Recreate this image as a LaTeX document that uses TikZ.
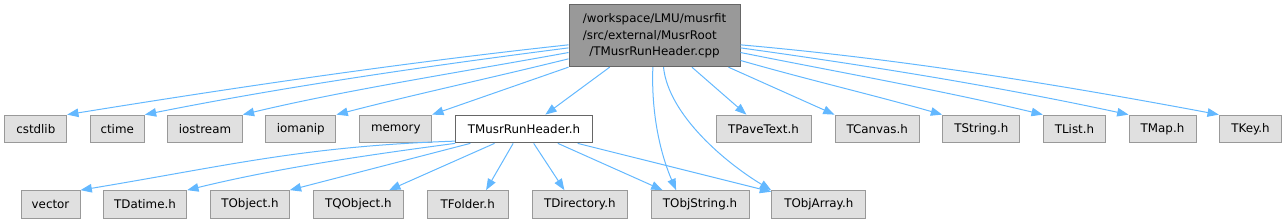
\documentclass[tikz,border=0pt]{standalone}
\usepackage{fontspec}
\setmainfont{DejaVu Sans}
\usetikzlibrary{arrows.meta}
\definecolor{edgeblue}{HTML}{63B8FF}
\definecolor{boxfill}{HTML}{E0E0E0}
\definecolor{boxline}{HTML}{999999}
\definecolor{rootfill}{HTML}{999999}
\definecolor{rootline}{HTML}{666666}
\tikzset{
  incfile/.style={
    draw=boxline,
    fill=boxfill,
    line width=0.75pt,
    inner sep=0pt,
    minimum height=20.8pt,
    minimum width=#1*0.75pt,
    font=\fontsize{8.9pt}{12.4pt}\selectfont
  },
  localfile/.style={
    incfile=#1,
    draw=rootline,
    fill=white
  },
  rootfile/.style={
    draw=rootline,
    fill=rootfill,
    line width=0.75pt,
    inner sep=0pt,
    minimum height=46.3pt,
    minimum width=#1*0.75pt,
    font=\fontsize{8.9pt}{12.4pt}\selectfont
  },
  dep/.style={
    -{Triangle[length=8.5pt,width=6.4pt]},
    line width=0.75pt,
    color=edgeblue
  }
}

\begin{document}
\begin{tikzpicture}[x=0.75pt, y=-0.75pt]
    % 1 unit = 1 px of the graph, y runs downwards
    \useasboundingbox (0,0) rectangle (1287,224);

    % the source file
    \node[rootfile=171] (root) at (654.5,35.8) {\begin{tabular}{@{}l@{}}/workspace/LMU/musrfit\\/src/external/MusrRoot\\\multicolumn{1}{@{}c@{}}{/TMusrRunHeader.cpp}\end{tabular}};

    % first row of includes
    \node[incfile=61.7] (cstdlib) at (35.8,129) {cstdlib};
    \node[incfile=54.3] (ctime) at (117.2,129) {ctime};
    \node[incfile=74.6] (iostream) at (205,129) {iostream};
    \node[incfile=70.3] (iomanip) at (300.8,129) {iomanip};
    \node[incfile=71.7] (memory) at (395.8,129) {memory};
    \node[localfile=136.6] (hdr) at (524,129) {TMusrRunHeader.h};
    \node[incfile=95] (pavetext) at (763.5,129) {TPaveText.h};
    \node[incfile=84.3] (canvas) at (877.2,129) {TCanvas.h};
    \node[incfile=77.3] (tstring) at (981.3,129) {TString.h};
    \node[incfile=62.4] (tlist) at (1074.5,129) {TList.h};
    \node[incfile=67] (tmap) at (1162.5,129) {TMap.h};
    \node[incfile=62.4] (tkey) at (1250.5,129) {TKey.h};

    % second row, included by the header
    \node[incfile=59] (vector) at (50.5,204.5) {vector};
    \node[incfile=83.4] (datime) at (145,204.5) {TDatime.h};
    \node[incfile=78.6] (tobject) at (250,204.5) {TObject.h};
    \node[incfile=90] (tqobject) at (358.3,204.5) {TQObject.h};
    \node[incfile=81.3] (folder) at (467.7,204.5) {TFolder.h};
    \node[incfile=95] (directory) at (579.8,204.5) {TDirectory.h};
    \node[incfile=98] (objstring) at (700,204.5) {TObjString.h};
    \node[incfile=94.3] (objarray) at (818.8,204.5) {TObjArray.h};

    % edges from the source file
    \draw[dep] (root.186) .. controls +(-167,18) and +(167,-27) .. (cstdlib.north east);
    \draw[dep] (root.188) .. controls +(-140,18) and +(140,-28) .. (ctime.north east);
    \draw[dep] (root.191) .. controls +(-110,20) and +(100,-24) .. (iostream.north east);
    \draw[dep] (root.195) .. controls +(-77,19) and +(77,-20) .. (iomanip.north east);
    \draw[dep] (root.south west) -- (memory.north east);
    \draw[dep] (root.215) -- (hdr.34);
    \draw[dep] (root.267) .. controls +(-2,53) and +(-13,-30) .. (objstring.149);
    \draw[dep] (root.286) .. controls +(5,48) and +(-45,-27) .. (objarray.north west);
    \draw[dep] (root.320) -- (pavetext.140);
    \draw[dep] (root.337) -- (canvas.north west);
    \draw[dep] (root.344) .. controls +(70,20) and +(-70,-20) .. (tstring.north west);
    \draw[dep] (root.349) .. controls +(100,20) and +(-100,-24) .. (tlist.north west);
    \draw[dep] (root.352) .. controls +(130,18) and +(-130,-28) .. (tmap.north west);
    \draw[dep] (root.354) .. controls +(160,14) and +(-160,-30) .. (tkey.north west);

    % edges from the header
    \draw[dep] (hdr.190) .. controls +(-150,5) and +(150,-25) .. (vector.north east);
    \draw[dep] (hdr.south west) .. controls +(-90,12) and +(90,-22) .. (datime.north east);
    \draw[dep] (hdr.195) -- (tobject.north east);
    \draw[dep] (hdr.206) -- (tqobject.25);
    \draw[dep] (hdr.233) -- (folder.38);
    \draw[dep] (hdr.304) -- (directory.137);
    \draw[dep] (hdr.337) -- (objstring.159);
    \draw[dep] (hdr.345) -- (objarray.165);
\end{tikzpicture}
\end{document}
